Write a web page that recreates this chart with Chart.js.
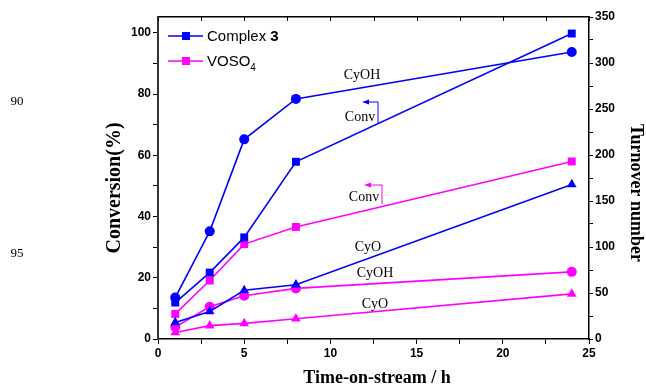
<!DOCTYPE html>
<html>
<head>
<meta charset="utf-8">
<script src="https://cdn.jsdelivr.net/npm/chart.js@4/dist/chart.umd.min.js"></script>
<style>
  html, body { margin: 0; padding: 0; background: #fff; }
</style>
</head>
<body>
<canvas id="chart" width="646" height="391"></canvas>
<script>
// time on stream (h)
const hours = [1, 3, 5, 8, 24]

// Complex 3 : conversion (%) on left axis, TON on right axis
const complexConv = [11.9, 21.7, 33.2, 57.9, 99.8]
const complexCyOH = [45, 117, 217, 261, 312]
const complexCyO  = [18, 30, 53, 59, 168]

// VOSO4
const vosoConv = [8.2, 19.1, 31, 36.6, 58]
const vosoCyOH = [13, 35, 47, 55, 73]
const vosoCyO  = [7, 14.5, 17, 22, 49]

const BLUE = '#0000ff'
const MAGENTA = '#ff00ff'
const tickFont = { family: 'Liberation Sans, Arial', size: 12, weight: 'bold' }
const serif = 'Liberation Serif, Times New Roman'

function pts(ys) {
    return hours.map((h, i) => ({ x: h, y: ys[i] }))
}

function series(label, ys, color, style, axis) {
    return {
        label: label,
        data: pts(ys),
        yAxisID: axis,
        borderColor: color,
        backgroundColor: color,
        borderWidth: 1.6,
        pointStyle: style,
        pointRadius: style === 'rect' ? 5.6 : (style === 'triangle' ? 5.6 : 5),
        pointBorderWidth: 0,
        tension: 0,
        fill: false
    }
}

// legend, axis titles, notes and stray labels drawn on top
const extras = {
    id: 'extras',
    afterDraw(chart) {
        const ctx = chart.ctx
        ctx.save()

        // legend
        const rows = [[BLUE, 36], [MAGENTA, 61]]
        rows.forEach(([c, y]) => {
            ctx.strokeStyle = c
            ctx.fillStyle = c
            ctx.lineWidth = 1.6
            ctx.beginPath()
            ctx.moveTo(168, y)
            ctx.lineTo(203, y)
            ctx.stroke()
            ctx.fillRect(182, y - 4, 8, 8)
        })
        ctx.fillStyle = '#000'
        ctx.textBaseline = 'middle'
        ctx.textAlign = 'left'
        ctx.font = '15px Liberation Sans, Arial'
        ctx.fillText('Complex ', 207, 37)
        let w = ctx.measureText('Complex ').width
        ctx.font = 'bold 15px Liberation Sans, Arial'
        ctx.fillText('3', 207 + w, 37)
        ctx.font = '15px Liberation Sans, Arial'
        ctx.fillText('VOSO', 207, 62)
        w = ctx.measureText('VOSO').width
        ctx.font = '10px Liberation Sans, Arial'
        ctx.fillText('4', 207 + w, 68)

        // axis titles
        ctx.textAlign = 'center'
        ctx.font = 'bold 18px ' + serif
        ctx.fillText('Time-on-stream / h', 377, 378)

        ctx.save()
        ctx.translate(115, 188)
        ctx.rotate(-Math.PI / 2)
        ctx.font = 'bold 20px ' + serif
        ctx.fillText('Conversion(%)', 0, 0)
        ctx.restore()

        ctx.save()
        ctx.translate(636, 193)
        ctx.rotate(Math.PI / 2)
        ctx.font = 'bold 18px ' + serif
        ctx.fillText('Turnover number', 0, 0)
        ctx.restore()

        // curve notes
        ctx.font = '14px ' + serif
        const notes = [
            ['CyOH', 362, 75], ['Conv', 360, 117], ['Conv', 364, 197],
            ['CyO', 368, 247], ['CyOH', 375, 273], ['CyO', 375, 304]
        ]
        notes.forEach(([t, x, y]) => ctx.fillText(t, x, y))

        // conversion arrows (point to left axis)
        const arrows = [[BLUE, 362, 378, 102, 123], [MAGENTA, 364, 382, 185, 204]]
        arrows.forEach(([c, x0, x1, y0, y1]) => {
            ctx.strokeStyle = c
            ctx.fillStyle = c
            ctx.lineWidth = 1
            ctx.beginPath()
            ctx.moveTo(x0 + 4, y0)
            ctx.lineTo(x1, y0)
            ctx.lineTo(x1, y1)
            ctx.stroke()
            ctx.beginPath()
            ctx.moveTo(x0, y0)
            ctx.lineTo(x0 + 7, y0 - 2.5)
            ctx.lineTo(x0 + 7, y0 + 2.5)
            ctx.closePath()
            ctx.fill()
        })

        // stray numbers at left margin
        ctx.fillStyle = '#000'
        ctx.font = '13px ' + serif
        ctx.fillText('90', 17, 102)
        ctx.fillText('95', 17, 254)

        // inward ticks on top frame
        const xs = chart.scales.x
        const top = chart.chartArea.top
        ctx.strokeStyle = '#000'
        ctx.lineWidth = 1
        for (let v = 0; v <= 25; v += 2.5) {
            const px = Math.round(xs.getPixelForValue(v)) + 0.5
            ctx.beginPath()
            ctx.moveTo(px, top)
            ctx.lineTo(px, top + 4)
            ctx.stroke()
        }
        ctx.restore()
    }
}

const ctx = document.getElementById('chart').getContext('2d')
new Chart(ctx, {
    type: 'line',
    data: {
        datasets: [
            series('Complex 3 Conv', complexConv, BLUE, 'rect', 'y'),
            series('Complex 3 CyOH', complexCyOH, BLUE, 'circle', 'y2'),
            series('Complex 3 CyO', complexCyO, BLUE, 'triangle', 'y2'),
            series('VOSO4 Conv', vosoConv, MAGENTA, 'rect', 'y'),
            series('VOSO4 CyOH', vosoCyOH, MAGENTA, 'circle', 'y2'),
            series('VOSO4 CyO', vosoCyO, MAGENTA, 'triangle', 'y2')
        ]
    },
    options: {
        responsive: false,
        animation: false,
        layout: { padding: { left: 101, right: 0, top: 0, bottom: 4 } },
        plugins: {
            legend: { display: false },
            tooltip: { enabled: false }
        },
        scales: {
            x: {
                type: 'linear',
                position: 'bottom',
                min: 0,
                max: 25,
                afterFit: s => { s.height = 48 },
                ticks: {
                    stepSize: 2.5,
                    font: tickFont,
                    color: '#000',
                    padding: 2,
                    maxRotation: 0,
                    autoSkip: false,
                    callback: v => (v % 5 === 0 ? v : '')
                },
                grid: { drawOnChartArea: false, tickLength: 5, color: '#000' },
                border: { color: '#000', width: 1.5 }
            },
            xTop: {
                type: 'linear',
                position: 'top',
                min: 0,
                max: 25,
                afterFit: s => { s.height = 17 },
                ticks: { display: false },
                grid: { display: false },
                border: { color: '#000', width: 1.5 }
            },
            y: {
                position: 'left',
                min: 0,
                max: 105.2,
                afterFit: s => { s.width = 57 },
                ticks: {
                    stepSize: 10,
                    includeBounds: false,
                    font: tickFont,
                    color: '#000',
                    padding: 2,
                    autoSkip: false,
                    callback: v => (v % 20 === 0 ? v : '')
                },
                grid: { drawOnChartArea: false, tickLength: 5, color: '#000' },
                border: { color: '#333', width: 2 }
            },
            y2: {
                position: 'right',
                min: 0,
                max: 350,
                afterFit: s => { s.width = 57 },
                ticks: {
                    stepSize: 25,
                    font: tickFont,
                    color: '#000',
                    padding: 2,
                    autoSkip: false,
                    callback: v => (v % 50 === 0 ? v : '')
                },
                grid: { drawOnChartArea: false, tickLength: 4, color: '#000' },
                border: { color: '#000', width: 1.5 }
            }
        }
    },
    plugins: [extras]
});
</script>
</body>
</html>
